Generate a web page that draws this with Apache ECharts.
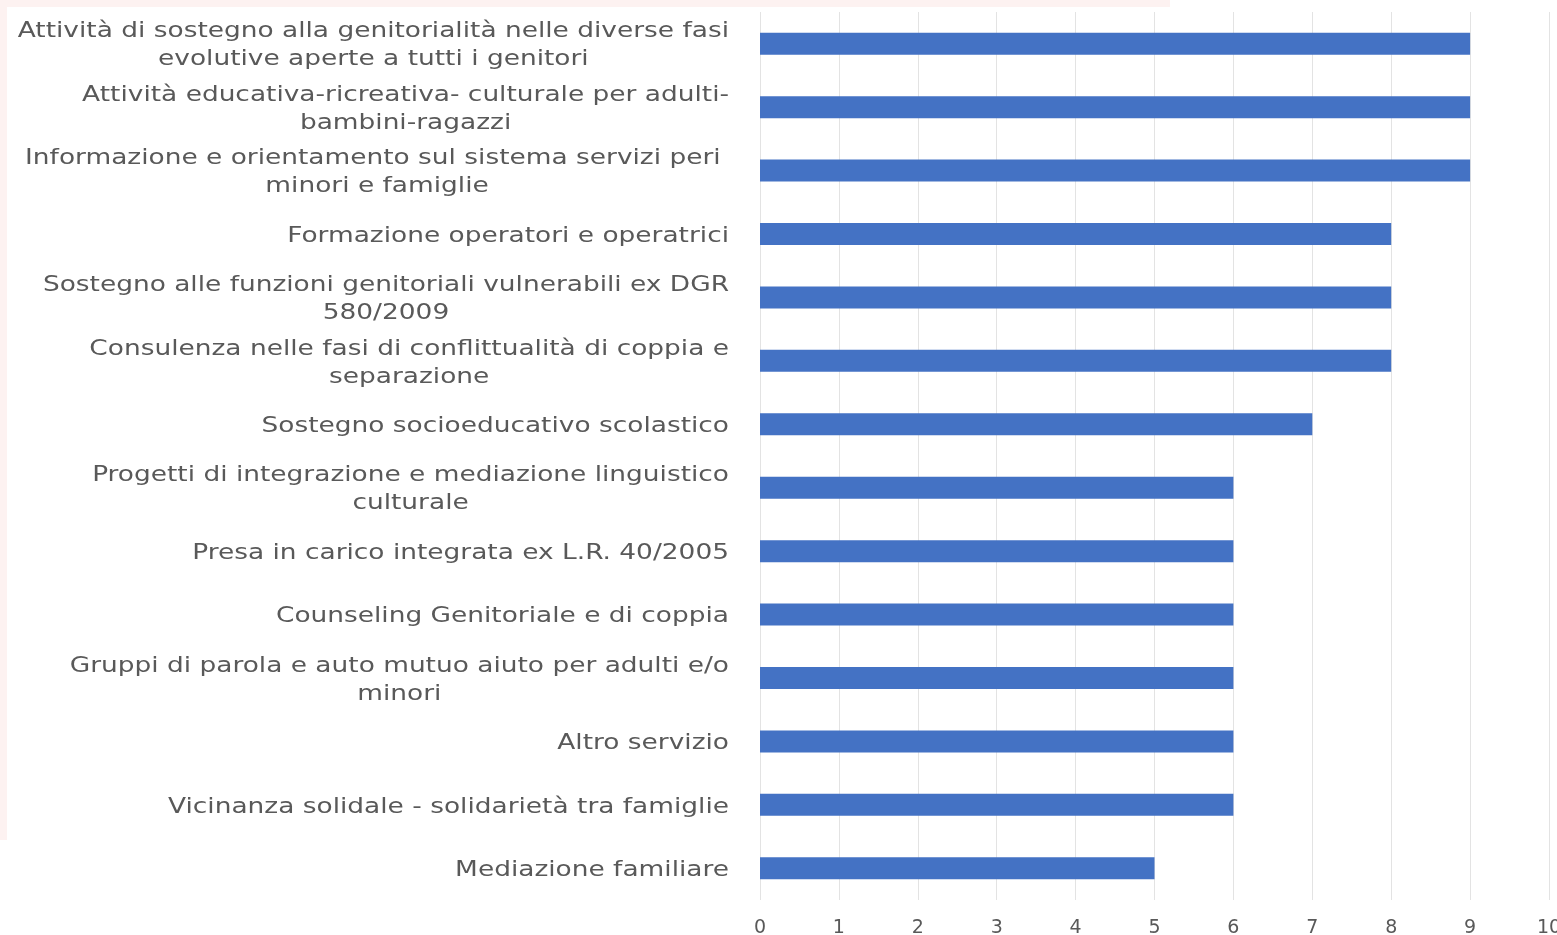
<!DOCTYPE html>
<html>
<head>
<meta charset="utf-8">
<script src="https://cdn.jsdelivr.net/npm/echarts@6/dist/echarts.min.js"></script>
<style>
html,body{margin:0;padding:0;background:#fff;}
#chart{width:1557px;height:935px;}
</style>
</head>
<body>
<div id="chart"></div>
<script>
const categories = [
  "Attività di sostegno alla genitorialità nelle diverse fasi\nevolutive aperte a tutti i genitori",
  "Attività educativa-ricreativa- culturale per adulti-\nbambini-ragazzi",
  "Informazione e orientamento sul sistema servizi peri \nminori e famiglie",
  "Formazione operatori e operatrici",
  "Sostegno alle funzioni genitoriali vulnerabili ex DGR\n580/2009",
  "Consulenza nelle fasi di conflittualità di coppia e\nseparazione",
  "Sostegno socioeducativo scolastico",
  "Progetti di integrazione e mediazione linguistico\nculturale",
  "Presa in carico integrata ex L.R. 40/2005",
  "Counseling Genitoriale e di coppia",
  "Gruppi di parola e auto mutuo aiuto per adulti e/o\nminori",
  "Altro servizio",
  "Vicinanza solidale - solidarietà tra famiglie",
  "Mediazione familiare"
];
const values = [9, 9, 9, 8, 8, 8, 7, 6, 6, 6, 6, 6, 6, 5];
const xTicks = [0, 1, 2, 3, 4, 5, 6, 7, 8, 9, 10];

const LABEL_FONT_SIZE = 22;
const LABEL_FONT = 'DejaVu Sans';
const LABEL_SCALE_X = 1.2;

const chart = echarts.init(document.getElementById('chart'));
const bgGraphics = [
  { type: 'rect', shape: { x: 0, y: 0, width: 1170, height: 7 }, style: { fill: '#fdf2f1' }, z: -10 },
  { type: 'rect', shape: { x: 0, y: 0, width: 7, height: 840 }, style: { fill: '#fdf2f1' }, z: -10 }
];
chart.setOption({
  backgroundColor: '#ffffff',
  animation: false,
  textStyle: { fontFamily: 'DejaVu Sans' },
  graphic: bgGraphics,
  grid: { left: 760, right: 8, top: 12, bottom: 35, containLabel: false, outerBoundsMode: 'none' },
  xAxis: {
    type: 'value',
    min: xTicks[0],
    max: xTicks[xTicks.length - 1],
    interval: 1,
    axisLine: { show: false },
    axisTick: { show: false },
    splitLine: { show: true, lineStyle: { color: '#e3e3e3', width: 1 } },
    axisLabel: { color: '#595959', fontSize: 19, margin: 19, fontFamily: 'DejaVu Sans', hideOverlap: false }
  },
  yAxis: {
    type: 'category',
    data: categories,
    inverse: true,
    axisLine: { show: false },
    axisTick: { show: false },
    axisLabel: { show: false }
  },
  series: [{
    type: 'bar',
    data: values,
    barWidth: 22,
    itemStyle: { color: '#4472C4' }
  }]
});

// Category labels: block right-aligned next to the axis, lines centered within the block.
const measureCtx = document.createElement('canvas').getContext('2d');
measureCtx.font = LABEL_FONT_SIZE + 'px "' + LABEL_FONT + '"';
const labelRight = chart.convertToPixel({ gridIndex: 0 }, [0, 0])[0] - 31;
const labelGraphics = categories.map(function (name, i) {
  const y = chart.convertToPixel({ yAxisIndex: 0 }, i) + 2;
  const w = Math.max.apply(null, name.split('\n').map(function (l) { return measureCtx.measureText(l).width; }));
  return {
    type: 'text',
    x: labelRight - w * LABEL_SCALE_X / 2,
    y: y,
    scaleX: LABEL_SCALE_X,
    silent: true,
    style: {
      text: name,
      x: 0,
      y: 0,
      align: 'center',
      verticalAlign: 'middle',
      fontSize: LABEL_FONT_SIZE,
      lineHeight: 28,
      fontFamily: LABEL_FONT,
      fill: '#595959'
    }
  };
});
chart.setOption({ graphic: bgGraphics.concat(labelGraphics) });
</script>
</body>
</html>
